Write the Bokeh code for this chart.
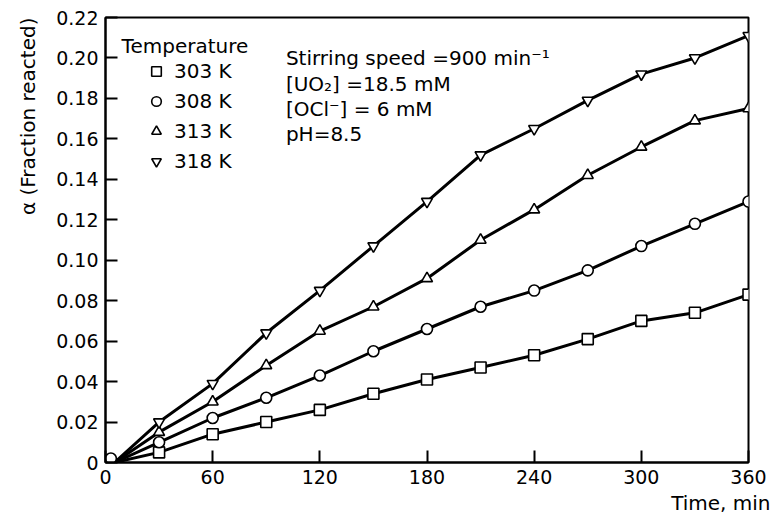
from bokeh.plotting import figure
from bokeh.models import (Label, Legend, LegendItem, FixedTicker, Range1d, Title)
from bokeh.embed import file_html
from bokeh.resources import INLINE

# ---- data ----
time_min = [5, 30, 60, 90, 120, 150, 180, 210, 240, 270, 300, 330, 360]
alpha_303K = [0.0, 0.005, 0.014, 0.020, 0.026, 0.034, 0.041, 0.047, 0.053, 0.061, 0.070, 0.074, 0.083]
alpha_308K = [0.0, 0.010, 0.022, 0.032, 0.043, 0.055, 0.066, 0.077, 0.085, 0.095, 0.107, 0.118, 0.129]
alpha_313K = [0.0, 0.015, 0.030, 0.048, 0.065, 0.077, 0.091, 0.110, 0.125, 0.142, 0.156, 0.169, 0.175]
alpha_318K = [0.0, 0.020, 0.039, 0.064, 0.085, 0.107, 0.129, 0.152, 0.165, 0.179, 0.192, 0.200, 0.211]
origin_time = [3]
origin_alpha = [0.002]
series_labels = ["303 K", "308 K", "313 K", "318 K"]
series_markers = ["square", "circle", "triangle", "inverted_triangle"]
x_ticks = [0, 60, 120, 180, 240, 300, 360]
y_ticks = [0, 0.02, 0.04, 0.06, 0.08, 0.10, 0.12, 0.14, 0.16, 0.18, 0.20, 0.22]
y_tick_labels = ["0", "0.02", "0.04", "0.06", "0.08", "0.10", "0.12", "0.14", "0.16", "0.18", "0.20", "0.22"]

FONT = "DejaVu Sans"
FS = "19px"
FS_T = "20px"

p = figure(width=776, height=518, output_backend="svg", toolbar_location=None,
           x_range=Range1d(0, 360), y_range=Range1d(0, 0.22),
           min_border_left=104, min_border_right=28, min_border_top=17, min_border_bottom=56)
p.grid.visible = False
p.outline_line_color = "black"
p.outline_line_width = 2
p.background_fill_color = "white"

for ax in (p.xaxis[0], p.yaxis[0]):
    ax.axis_line_width = 2
    ax.axis_line_color = "black"
    ax.major_tick_in = 12
    ax.major_tick_out = 0
    ax.major_tick_line_width = 2
    ax.minor_tick_line_color = None
    ax.major_label_text_font = FONT
    ax.major_label_text_font_size = FS
    ax.major_label_text_color = "black"
    ax.major_label_standoff = 7

p.xaxis.ticker = FixedTicker(ticks=x_ticks)
p.yaxis.ticker = FixedTicker(ticks=y_ticks)
p.yaxis.major_label_overrides = {t: s for t, s in zip(y_ticks, y_tick_labels)}

series = [alpha_303K, alpha_308K, alpha_313K, alpha_318K]
items = []
for vals, lab, mk in zip(series, series_labels, series_markers):
    p.line(time_min, vals, line_color="black", line_width=3)
    r = p.scatter(time_min[1:], vals[1:], marker=mk, size=11, fill_color="white",
                  line_color="black", line_width=1.6)
    items.append(LegendItem(label=lab, renderers=[r]))

p.scatter(origin_time, origin_alpha, marker="circle", size=11, fill_color="white",
          line_color="black", line_width=1.6)

legend = Legend(items=items, location=(33, 289), orientation="vertical",
                glyph_width=36, glyph_height=24, label_height=20, spacing=6,
                label_standoff=0, padding=0, margin=0,
                border_line_color=None, background_fill_alpha=0,
                label_text_font=FONT, label_text_font_size=FS_T,
                label_text_color="black")
p.add_layout(legend, "center")

def txt(x, y, s, **kw):
    lb = Label(x=x, y=y, text=s, text_font=FONT, text_font_size=FS_T,
               text_color="black", text_baseline="middle", **kw)
    p.add_layout(lb)

txt(9, 0.206, "Temperature")
txt(101, 0.2002, "Stirring speed =900 min\u207b\u00b9")
txt(101, 0.1873, "[UO\u2082] =18.5 mM")
txt(101, 0.1750, "[OCl\u207b] = 6 mM")
txt(101, 0.1626, "pH=8.5")

# axis titles
ytitle = Title(text="\u03b1 (Fraction reacted)", align="right", offset=0,
               text_font=FONT, text_font_size=FS_T, text_font_style="normal",
               text_color="black", standoff=27)
p.add_layout(ytitle, "left")
xtitle = Title(text="Time, min", align="right", offset=-22,
               text_font=FONT, text_font_size=FS_T, text_font_style="normal",
               text_color="black", standoff=4)
p.add_layout(xtitle, "below")

open("out.html", "w").write(file_html(p, INLINE))
